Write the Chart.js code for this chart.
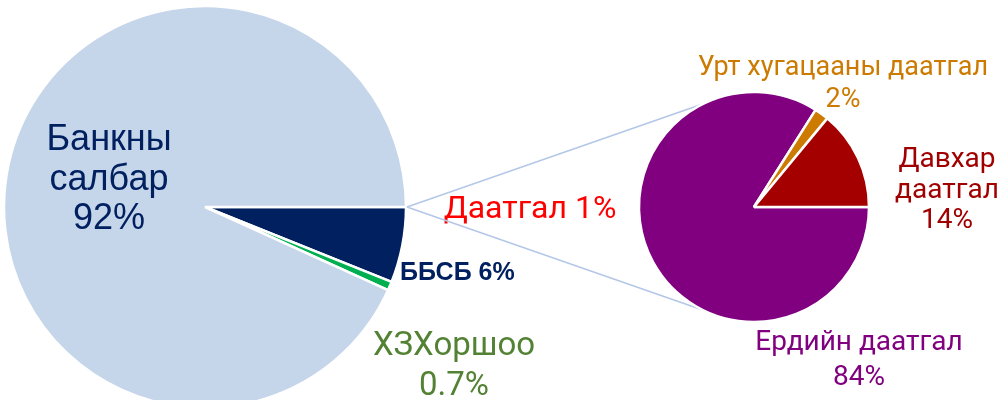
<!DOCTYPE html>
<html><head><meta charset="utf-8">
<script src="https://cdn.jsdelivr.net/npm/chart.js@4/dist/chart.umd.min.js"></script>
<style>
html,body{margin:0;padding:0;width:1002px;height:400px;overflow:hidden;background:#fff;}
.layer{position:absolute;left:0;top:0;width:1002px;height:400px;}
</style></head><body>
<div class="layer"><canvas id="main" width="1002" height="400"></canvas></div>
<div class="layer"><canvas id="detail" width="1002" height="400"></canvas></div>
<script>
// ---- data ----
const mainCategories = ['Банкны салбар', 'ББСБ', 'ХЗХоршоо', 'Даатгал'];
const mainShares = [92, 6, 0.7, 1];
const mainShareLabels = ['92%', '6%', '0.7%', '1%'];
const insuranceCategories = ['Ердийн даатгал', 'Давхар даатгал', 'Урт хугацааны даатгал'];
const insuranceShares = [84, 14, 2];
const insuranceShareLabels = ['84%', '14%', '2%'];

// ---- styles ----
const mainColors = ['#c5d5ea', '#002060', '#00b050'];
const insuranceColors = ['#800080', '#a50000', '#cc7a00'];

// slice order clockwise from 3 o'clock
const mainOrder = [1, 2, 0];           // ББСБ, ХЗХоршоо, Банкны салбар (Даатгал is split out)
const insuranceOrder = [0, 2, 1];      // Ердийн, Урт хугацааны, Давхар

function drawLines(ctx, lines, x, y0, step, font, color) {
  ctx.save();
  ctx.font = font; ctx.fillStyle = color;
  ctx.textAlign = 'center'; ctx.textBaseline = 'alphabetic';
  lines.forEach((t, i) => ctx.fillText(t, x, y0 + i * step));
  ctx.restore();
}

const mainLabels = {
  id: 'mainLabels',
  afterDraw(chart) {
    const ctx = chart.ctx;
    drawLines(ctx, ['Банкны', 'салбар', mainShareLabels[0]], 109, 150, 39.5, '36px "Liberation Sans", Arial, sans-serif', '#002060');
    ctx.save();
    ctx.font = 'bold 25px "Liberation Sans", Arial, sans-serif'; ctx.fillStyle = '#002060';
    ctx.textAlign = 'left'; ctx.textBaseline = 'alphabetic';
    ctx.fillText(mainCategories[1] + ' ' + mainShareLabels[1], 400, 280);
    ctx.restore();
    drawLines(ctx, [mainCategories[3] + ' ' + mainShareLabels[3]], 530, 218, 0, '32px Roboto, sans-serif', '#ff0000');
    drawLines(ctx, [mainCategories[2], mainShareLabels[2]], 454, 355, 40, '33px Roboto, sans-serif', '#548235');
  }
};

const mainChart = new Chart(document.getElementById('main'), {
  type: 'pie',
  data: {
    labels: mainOrder.map(i => mainCategories[i]),
    datasets: [{
      data: mainOrder.map(i => mainShares[i]),
      backgroundColor: mainOrder.map(i => mainColors[i]),
      borderColor: '#ffffff',
      borderWidth: 2.5,
      clip: false
    }]
  },
  options: {
    responsive: false, animation: false,
    rotation: 90, radius: 201,
    layout: { padding: { left: 5, right: 597, top: 14, bottom: 0 } },
    plugins: { legend: { display: false }, tooltip: { enabled: false } }
  },
  plugins: [mainLabels]
});

const detailPlugin = {
  id: 'detailPlugin',
  beforeDatasetsDraw(chart) {
    const ctx = chart.ctx;
    const m = mainChart.getDatasetMeta(0).data[0];
    const d = chart.getDatasetMeta(0).data[0];
    const sx = m.x + m.outerRadius + 1, sy = m.y;
    const a = 116.5 * Math.PI / 180;
    ctx.save();
    ctx.strokeStyle = '#b4c7e7'; ctx.lineWidth = 1.6;
    ctx.beginPath();
    ctx.moveTo(sx, sy); ctx.lineTo(d.x + d.outerRadius * Math.cos(a), d.y - d.outerRadius * Math.sin(a));
    ctx.moveTo(sx, sy); ctx.lineTo(d.x + d.outerRadius * Math.cos(a), d.y + d.outerRadius * Math.sin(a));
    ctx.stroke();
    ctx.restore();
  },
  afterDraw(chart) {
    const ctx = chart.ctx;
    drawLines(ctx, [insuranceCategories[2], insuranceShareLabels[2]], 843, 75, 32, '27px Roboto, sans-serif', '#cc7a00');
    drawLines(ctx, ['Давхар', 'даатгал', insuranceShareLabels[1]], 947, 167, 30.5, '28px Roboto, sans-serif', '#a00000');
    drawLines(ctx, [insuranceCategories[0], insuranceShareLabels[0]], 859, 350, 35, '28px Roboto, sans-serif', '#800080');
  }
};

new Chart(document.getElementById('detail'), {
  type: 'pie',
  data: {
    labels: insuranceOrder.map(i => insuranceCategories[i]),
    datasets: [{
      data: insuranceOrder.map(i => insuranceShares[i]),
      backgroundColor: insuranceOrder.map(i => insuranceColors[i]),
      borderColor: '#ffffff',
      borderWidth: 2.5,
      clip: false
    }]
  },
  options: {
    responsive: false, animation: false,
    rotation: 90, radius: 115,
    layout: { padding: { left: 640, right: 134, top: 93, bottom: 79 } },
    plugins: { legend: { display: false }, tooltip: { enabled: false } }
  },
  plugins: [detailPlugin]
});
</script>
</body></html>
